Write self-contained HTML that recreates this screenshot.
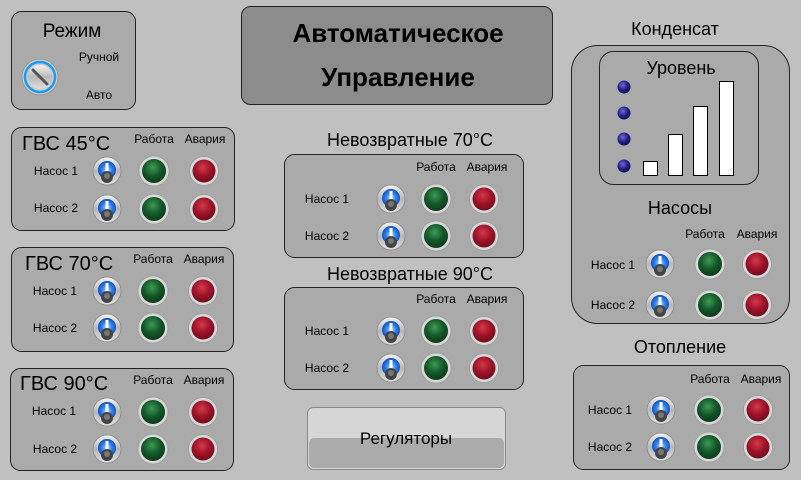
<!DOCTYPE html>
<html><head><meta charset="utf-8"><style>
html,body{margin:0;padding:0;background:#c0c0c0;}
svg{display:block;font-family:"Liberation Sans",Arial,sans-serif;}
</style></head><body>
<svg width="801" height="480" viewBox="0 0 801 480" xmlns="http://www.w3.org/2000/svg">
<defs>
<radialGradient id="gG" cx="0.45" cy="0.35" r="0.7"><stop offset="0" stop-color="#3f9a55"/><stop offset="0.5" stop-color="#145a2a"/><stop offset="1" stop-color="#0a3517"/></radialGradient>
<radialGradient id="gR" cx="0.45" cy="0.35" r="0.7"><stop offset="0" stop-color="#d43a4a"/><stop offset="0.5" stop-color="#a0142a"/><stop offset="1" stop-color="#6a0a18"/></radialGradient>
<radialGradient id="gB" cx="0.4" cy="0.35" r="0.7"><stop offset="0" stop-color="#6a6ad0"/><stop offset="0.6" stop-color="#201a80"/><stop offset="1" stop-color="#10104a"/></radialGradient>
<linearGradient id="gS" x1="0" y1="0" x2="0" y2="1"><stop offset="0" stop-color="#f4f4f4"/><stop offset="0.5" stop-color="#b8b8b8"/><stop offset="1" stop-color="#e0e0e0"/></linearGradient>
<radialGradient id="gBl" cx="0.5" cy="0.5" r="0.5"><stop offset="0" stop-color="#bfe0ff"/><stop offset="0.5" stop-color="#3a8af0"/><stop offset="1" stop-color="#1050c0"/></radialGradient>
<g id="tg"><circle r="14" fill="url(#gS)" stroke="#888" stroke-width="0.8"/><circle r="9" cy="-1" fill="url(#gBl)"/><rect x="-1.5" y="-8" width="3" height="12" fill="#fff"/><circle cy="6" r="6" fill="#444"/><circle cy="5" r="3" fill="#777"/></g>
<g id="gr"><circle r="15" fill="#d8d8d8" stroke="#999" stroke-width="0.8"/><circle r="12" fill="url(#gG)"/></g>
<g id="rd"><circle r="14.5" fill="#d8d8d8" stroke="#999" stroke-width="0.8"/><circle r="11.5" fill="url(#gR)"/></g>
<g id="bl"><circle r="7.5" fill="#aaa"/><circle r="6.5" fill="url(#gB)"/></g>
</defs>

<!-- Режим -->
<rect x="11.5" y="11.5" width="124" height="98" rx="10" fill="#aaaaaa" stroke="#222"/>
<text x="72" y="37" font-size="19" text-anchor="middle">Режим</text>
<circle cx="40" cy="77" r="18" fill="#ccc" stroke="#999"/>
<circle cx="40" cy="77" r="15" fill="none" stroke="#1a9af0" stroke-width="2.5"/>
<circle cx="40" cy="77" r="12" fill="url(#gS)"/>
<line x1="33" y1="70" x2="47" y2="84" stroke="#555" stroke-width="3" stroke-linecap="round"/>
<text x="99" y="61" font-size="12" text-anchor="middle">Ручной</text>
<text x="99" y="99" font-size="12" text-anchor="middle">Авто</text>

<!-- Title -->
<rect x="241.5" y="6.5" width="311" height="98" rx="9" fill="#8c8c8c" stroke="#222"/>
<text x="398" y="42" font-size="26" font-weight="bold" text-anchor="middle">Автоматическое</text>
<text x="398" y="86" font-size="26" font-weight="bold" text-anchor="middle">Управление</text>

<!-- ГВС panels -->
<g>
<rect x="11.5" y="127.5" width="223" height="103" rx="10" fill="#aaaaaa" stroke="#222"/>
<text x="22" y="150" font-size="20">ГВС 45°С</text>
<text x="154" y="143" font-size="12" text-anchor="middle">Работа</text>
<text x="205" y="143" font-size="12" text-anchor="middle">Авария</text>
<text x="56" y="175" font-size="12" text-anchor="middle">Насос 1</text>
<text x="56" y="212" font-size="12" text-anchor="middle">Насос 2</text>
<use href="#tg" x="107" y="171"/><use href="#gr" x="154" y="171"/><use href="#rd" x="204" y="171"/>
<use href="#tg" x="107" y="209"/><use href="#gr" x="154" y="209"/><use href="#rd" x="204" y="209"/>
</g>
<g>
<rect x="11.5" y="247.5" width="222" height="104" rx="10" fill="#aaaaaa" stroke="#222"/>
<text x="25" y="270" font-size="20">ГВС 70°С</text>
<text x="153" y="263" font-size="12" text-anchor="middle">Работа</text>
<text x="204" y="263" font-size="12" text-anchor="middle">Авария</text>
<text x="55" y="295" font-size="12" text-anchor="middle">Насос 1</text>
<text x="55" y="332" font-size="12" text-anchor="middle">Насос 2</text>
<use href="#tg" x="107" y="291"/><use href="#gr" x="153" y="291"/><use href="#rd" x="203" y="291"/>
<use href="#tg" x="107" y="328"/><use href="#gr" x="153" y="328"/><use href="#rd" x="203" y="328"/>
</g>
<g>
<rect x="10.5" y="368.5" width="223" height="102" rx="10" fill="#aaaaaa" stroke="#222"/>
<text x="20" y="390" font-size="20">ГВС 90°С</text>
<text x="153" y="384" font-size="12" text-anchor="middle">Работа</text>
<text x="204" y="384" font-size="12" text-anchor="middle">Авария</text>
<text x="54" y="415" font-size="12" text-anchor="middle">Насос 1</text>
<text x="55" y="453" font-size="12" text-anchor="middle">Насос 2</text>
<use href="#tg" x="107" y="412"/><use href="#gr" x="153" y="412"/><use href="#rd" x="203" y="412"/>
<use href="#tg" x="107" y="449"/><use href="#gr" x="153" y="449"/><use href="#rd" x="203" y="449"/>
</g>

<!-- Невозвратные 70 -->
<text x="410" y="146" font-size="18" text-anchor="middle">Невозвратные 70°С</text>
<rect x="284.5" y="154.5" width="239" height="103" rx="10" fill="#aaaaaa" stroke="#222"/>
<text x="436" y="171" font-size="12" text-anchor="middle">Работа</text>
<text x="487" y="171" font-size="12" text-anchor="middle">Авария</text>
<text x="327" y="203" font-size="12" text-anchor="middle">Насос 1</text>
<text x="327" y="240" font-size="12" text-anchor="middle">Насос 2</text>
<use href="#tg" x="391" y="199"/><use href="#gr" x="436" y="199"/><use href="#rd" x="484" y="199"/>
<use href="#tg" x="391" y="236"/><use href="#gr" x="436" y="236"/><use href="#rd" x="484" y="236"/>

<!-- Невозвратные 90 -->
<text x="410" y="280" font-size="18" text-anchor="middle">Невозвратные 90°С</text>
<rect x="284.5" y="287.5" width="239" height="102" rx="10" fill="#aaaaaa" stroke="#222"/>
<text x="436" y="303" font-size="12" text-anchor="middle">Работа</text>
<text x="487" y="303" font-size="12" text-anchor="middle">Авария</text>
<text x="327" y="335" font-size="12" text-anchor="middle">Насос 1</text>
<text x="327" y="372" font-size="12" text-anchor="middle">Насос 2</text>
<use href="#tg" x="391" y="331"/><use href="#gr" x="436" y="331"/><use href="#rd" x="484" y="331"/>
<use href="#tg" x="391" y="368"/><use href="#gr" x="436" y="368"/><use href="#rd" x="484" y="368"/>

<!-- Регуляторы -->
<rect x="307.5" y="407.5" width="198" height="62" rx="6" fill="#d6d6d6" stroke="#888"/>
<rect x="309" y="438" width="195" height="30" rx="5" fill="#ababab"/>
<text x="406" y="444" font-size="17" text-anchor="middle">Регуляторы</text>

<!-- Конденсат -->
<text x="675" y="35" font-size="18" text-anchor="middle">Конденсат</text>
<rect x="571.5" y="45.5" width="218" height="278" rx="26" fill="#aaaaaa" stroke="#222"/>
<rect x="599.5" y="51.5" width="159" height="133" rx="14" fill="#aaaaaa" stroke="#222"/>
<text x="681" y="74" font-size="18" text-anchor="middle">Уровень</text>
<use href="#bl" x="624" y="87"/><use href="#bl" x="624" y="113"/><use href="#bl" x="624" y="139"/><use href="#bl" x="624" y="166"/>
<rect x="643.5" y="161.5" width="14" height="14" fill="#fff" stroke="#000"/>
<rect x="668.5" y="134.5" width="14" height="41" fill="#fff" stroke="#000"/>
<rect x="693.5" y="106.5" width="14" height="69" fill="#fff" stroke="#000"/>
<rect x="719.5" y="81.5" width="14" height="94" fill="#fff" stroke="#000"/>
<text x="680" y="214" font-size="18" text-anchor="middle">Насосы</text>
<text x="705" y="238" font-size="12" text-anchor="middle">Работа</text>
<text x="757" y="238" font-size="12" text-anchor="middle">Авария</text>
<text x="613" y="269" font-size="12" text-anchor="middle">Насос 1</text>
<text x="613" y="309" font-size="12" text-anchor="middle">Насос 2</text>
<use href="#tg" x="660" y="264"/><use href="#gr" x="710" y="264"/><use href="#rd" x="757" y="264"/>
<use href="#tg" x="660" y="305"/><use href="#gr" x="710" y="305"/><use href="#rd" x="757" y="305"/>

<!-- Отопление -->
<text x="680" y="353" font-size="18" text-anchor="middle">Отопление</text>
<rect x="573.5" y="365.5" width="216" height="104" rx="10" fill="#aaaaaa" stroke="#222"/>
<text x="710" y="383" font-size="12" text-anchor="middle">Работа</text>
<text x="761" y="383" font-size="12" text-anchor="middle">Авария</text>
<text x="610" y="414" font-size="12" text-anchor="middle">Насос 1</text>
<text x="610" y="451" font-size="12" text-anchor="middle">Насос 2</text>
<use href="#tg" x="661" y="410"/><use href="#gr" x="709" y="410"/><use href="#rd" x="758" y="410"/>
<use href="#tg" x="661" y="447"/><use href="#gr" x="709" y="447"/><use href="#rd" x="758" y="447"/>
</svg>
</body></html>
